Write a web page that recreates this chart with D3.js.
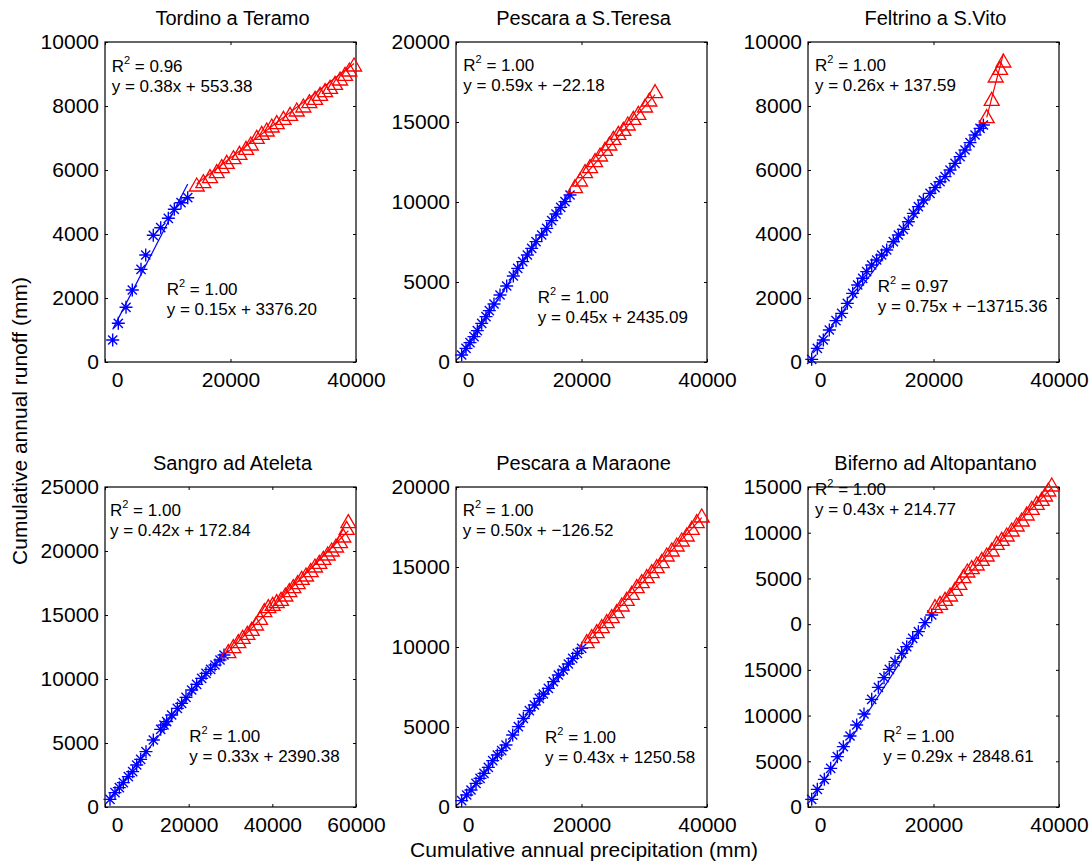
<!DOCTYPE html>
<html>
<head>
<meta charset="utf-8">
<script src="https://cdn.jsdelivr.net/npm/d3@7"></script>
<style>
  body { margin: 0; background: #fff; }
  text { font-family: "Liberation Sans", Arial, Helvetica, sans-serif; fill: #000; }
</style>
</head>
<body>
<script>
// panel titles, axis ranges and ticks
const titles = ["Tordino a Teramo", "Pescara a S.Teresa", "Feltrino a S.Vito",
                "Sangro ad Ateleta", "Pescara a Maraone", "Biferno ad Altopantano"];
const xMax = [40000, 40000, 40000, 60000, 40000, 40000];
const yMax = [10000, 20000, 10000, 25000, 20000, 35000];
const xTicks = [[0, 20000, 40000], [0, 20000, 40000], [0, 20000, 40000],
                [0, 20000, 40000, 60000], [0, 20000, 40000], [0, 20000, 40000]];
const yTicks = [[0, 2000, 4000, 6000, 8000, 10000],
                [0, 5000, 10000, 15000, 20000],
                [0, 2000, 4000, 6000, 8000, 10000],
                [0, 5000, 10000, 15000, 20000, 25000],
                [0, 5000, 10000, 15000, 20000],
                [0, 5000, 10000, 15000, 20000, 25000, 30000, 35000]];
// the last panel repeats its labels as in the original figure
const yTickLabels6 = ["0", "5000", "10000", "15000", "0", "5000", "10000", "15000"];

// cumulative precipitation / runoff, blue = first period, red = second period
const tordinoBlue = [[1227,687],[2120,1209],[3347,1709],[4352,2250],[5738,2896],[6487,3344],
  [7699,3959],[8879,4197],[10090,4490],[11046,4772],[12114,4978],[13182,5134]];
const tordinoRed = [[14617,5531],[15670,5635],[16737,5792],[17805,5948],[18602,6104],[19399,6240],
  [20466,6385],[21423,6521],[22475,6677],[23226,6812],[24181,7021],[24978,7146],[25775,7250],
  [26572,7375],[27369,7479],[28437,7614],[29489,7740],[30557,7875],[31610,8000],[32566,8135],
  [33474,8240],[34271,8365],[35068,8479],[35865,8583],[36662,8708],[37459,8844],[38256,8990],
  [38941,9125],[39691,9281]];

const teresaBlue = [[903,437],[1594,854],[2232,1208],[2869,1583],[3400,1958],[4096,2417],
  [4782,2833],[5313,3208],[6057,3625],[7014,4188],[8078,4750],[9137,5375],[9835,5854],
  [10632,6271],[11370,6688],[12061,7104],[12752,7521],[13661,7938],[14458,8354],[15255,8833],
  [15940,9250],[16689,9667],[17374,10021],[18172,10438]];
const teresaRed = [[18969,10958],[19766,11375],[20563,11896],[21360,12208],[22157,12583],
  [22954,12938],[23751,13292],[24441,13625],[25073,13979],[25870,14292],[26667,14542],
  [27369,14875],[28262,15229],[29059,15542],[30127,16000],[30812,16375],[31721,16896]];

const feltrinoBlue = [[590,83],[1488,427],[2444,688],[3400,1000],[4463,1292],[5366,1521],
  [6269,1833],[7119,2146],[7916,2406],[8713,2615],[9350,2823],[10150,3031],[10947,3188],
  [11744,3344],[12541,3500],[13603,3760],[14400,3969],[15197,4146],[15994,4385],[16791,4646],
  [17588,4854],[18385,5063],[19447,5271],[20244,5448],[21041,5635],[21838,5792],[22635,6000],
  [23432,6208],[24229,6417],[25026,6625],[25823,6854],[26620,7094],[27417,7302],[27949,7406]];
const feltrinoRed = [[28479,7667],[29276,8208],[29914,8938],[30605,9177],[31136,9406]];

const sangroBlue = [[1195,599],[2390,1120],[3426,1510],[4382,1901],[5578,2370],[6614,2760],
  [7570,3281],[8526,3724],[9801,4323],[11554,5234],[13307,6068],[14104,6406],[14741,6667],
  [15937,7188],[17292,7708],[18327,8099],[19362,8568],[20717,9141],[21912,9583],[23107,10052],
  [24143,10443],[25258,10755],[26294,11094],[27490,11484],[28446,11875]];
const sangroRed = [[29482,12135],[30677,12526],[31873,12917],[32908,13255],[34024,13568],
  [35060,13880],[36096,14297],[37052,14740],[38088,15339],[39044,15651],[40080,15833],
  [41036,16042],[42072,16224],[43108,16563],[44064,16901],[45020,17214],[46056,17526],
  [47012,17865],[48048,18125],[49164,18464],[50198,18828],[51234,19115],[52190,19427],
  [53226,19766],[54182,20078],[55218,20391],[56174,20729],[56970,21172],[57768,21771],[58166,22292]];

const maraoneBlue = [[903,396],[1700,750],[2391,1063],[3188,1479],[3826,1792],[4463,2104],
  [5154,2479],[5845,2896],[6588,3250],[7279,3521],[7970,3875],[9031,4500],[9935,5021],
  [10732,5542],[11689,6021],[12486,6375],[13283,6792],[13921,7063],[14718,7417],[15515,7833],
  [16312,8250],[17109,8563],[17906,8938],[18597,9292],[19341,9604],[20032,9917]];
const maraoneRed = [[20830,10333],[21627,10646],[22424,10958],[23221,11271],[24018,11583],
  [24815,11896],[25612,12208],[26409,12625],[27206,12979],[28003,13354],[28800,13771],
  [29597,14083],[30394,14396],[31191,14708],[31988,15021],[32785,15333],[33582,15750],
  [34379,16063],[35176,16375],[35973,16688],[36770,17000],[37567,17417],[38364,17833],[39161,18188]];

const bifernoBlue = [[590,839],[1488,1932],[2604,3026],[3613,4229],[4676,5505],[5632,6599],
  [6695,7766],[7758,8969],[8926,10172],[10150,11776],[11212,13089],[12114,14146],[12964,15057],
  [13868,15896],[14932,16807],[15729,17536],[16686,18448],[17588,19177],[18650,20161],[19718,21000]];
const bifernoRed = [[20244,21911],[21041,22276],[21838,22714],[22635,23188],[23432,23807],
  [24123,24464],[24761,25193],[25398,25813],[26088,26177],[26885,26578],[27682,27089],
  [28479,27563],[29276,28109],[30073,28839],[30870,29276],[31667,29750],[32464,30297],
  [33261,30844],[34058,31391],[34855,32047],[35652,32667],[36449,33214],[37246,33651],
  [37772,34125],[38298,34672],[38841,35219]];

const blueSets = [tordinoBlue, teresaBlue, feltrinoBlue, sangroBlue, maraoneBlue, bifernoBlue];
const redSets = [tordinoRed, teresaRed, feltrinoRed, sangroRed, maraoneRed, bifernoRed];

// regression lines (end points)
const blueFit = [[[1227,1020],[13182,5562]], [[903,511],[18172,10699]], [[590,291],[27949,7404]],
                 [[1195,675],[28446,12120]], [[903,325],[20032,9890]], [[590,800],[19718,21200]]];
const redFit = [[[14617,5569],[39691,9330]], [[18969,10971],[31721,16710]], [[28479,7644],[31136,9637]],
                [[29482,12119],[58166,21585]], [[20830,10208],[39161,18090]], [[20244,21700],[38841,34900]]];

// fit annotations
const r2Blue = ["0.96", "1.00", "1.00", "1.00", "1.00", "1.00"];
const eqBlue = ["y = 0.38x + 553.38", "y = 0.59x + \u221222.18", "y = 0.26x + 137.59",
                "y = 0.42x + 172.84", "y = 0.50x + \u2212126.52", "y = 0.43x + 214.77"];
const r2Red = ["1.00", "1.00", "0.97", "1.00", "1.00", "1.00"];
const eqRed = ["y = 0.15x + 3376.20", "y = 0.45x + 2435.09", "y = 0.75x + \u221213715.36",
               "y = 0.33x + 2390.38", "y = 0.43x + 1250.58", "y = 0.29x + 2848.61"];
// text anchors in data units
const noteBluePos = [[1068,9072],[1164,18188],[1116,9094],[1195,22734],[1068,18188],[1116,34125]];
const noteRedPos = [[9835,2094],[13023,3706],[11110,2197],[20151,5102],[14187,4000],[12003,7142]];

const width = 1092, height = 865;
const colLeft = [105, 456, 808], rowTop = [42, 487];
const pw = 251, ph = 320;

const svg = d3.select("body").append("svg")
    .attr("width", width)
    .attr("height", height);

svg.append("rect").attr("width", width).attr("height", height).attr("fill", "#fff");

function starPath(r){
    const d = r * 0.7071;
    return "M" + (-r) + ",0L" + r + ",0M0," + (-r) + "L0," + r +
           "M" + (-d) + "," + (-d) + "L" + d + "," + d + "M" + (-d) + "," + d + "L" + d + "," + (-d);
}
const triPath = "M0,-7L7.5,6L-7.5,6Z";

titles.forEach(function(title, i){
    const left = colLeft[i % 3], top = rowTop[Math.floor(i / 3)];
    const x = d3.scaleLinear().domain([0, xMax[i]]).range([0, pw]);
    const y = d3.scaleLinear().domain([0, yMax[i]]).range([ph, 0]);

    const g = svg.append("g").attr("transform", "translate(" + left + "," + top + ")");

    // axes, ticks pointing inward
    g.append("g").call(d3.axisLeft(y).tickValues(yTicks[i]).tickSize(-3).tickPadding(6)
        .tickFormat(function(d, k){ return i === 5 ? yTickLabels6[k] : d3.format("d")(d); }));
    g.append("g").attr("transform", "translate(" + pw + ",0)")
        .call(d3.axisRight(y).tickValues(yTicks[i]).tickSize(-3).tickFormat(""));
    const gb = g.append("g").attr("transform", "translate(0," + ph + ")")
        .call(d3.axisBottom(x).tickValues(xTicks[i]).tickSize(-3).tickPadding(10).tickFormat(d3.format("d")));
    g.append("g").call(d3.axisTop(x).tickValues(xTicks[i]).tickSize(-3).tickFormat(""));

    g.selectAll(".domain").remove();
    g.selectAll(".tick line").attr("stroke", "#000");
    g.selectAll(".tick text").attr("font-size", "21px").attr("fill", "#000");
    gb.selectAll(".tick text").filter(function(d){ return d === 0; }).attr("dx", 12);

    g.append("rect")
        .attr("width", pw).attr("height", ph)
        .attr("fill", "none").attr("stroke", "#000").attr("stroke-width", 1.2);

    g.append("text")
        .attr("x", pw / 2 + 2).attr("y", -17)
        .attr("text-anchor", "middle")
        .attr("font-size", "20px")
        .text(title);

    const line = d3.line().x(function(d){ return x(d[0]); }).y(function(d){ return y(d[1]); });

    g.append("path").attr("d", line(blueFit[i]))
        .attr("fill", "none").attr("stroke", "#0000ff").attr("stroke-width", 1.2);
    g.append("path").attr("d", line(redFit[i]))
        .attr("fill", "none").attr("stroke", "#ff0000").attr("stroke-width", 1.2);

    g.selectAll(".star")
        .data(blueSets[i])
        .enter()
        .append("path")
        .attr("class", "star")
        .attr("transform", function(d){ return "translate(" + x(d[0]) + "," + y(d[1]) + ")"; })
        .attr("d", starPath(6.5))
        .attr("fill", "none")
        .attr("stroke", "#0000ff")
        .attr("stroke-width", 1.4);

    g.selectAll(".tri")
        .data(redSets[i])
        .enter()
        .append("path")
        .attr("class", "tri")
        .attr("transform", function(d){ return "translate(" + x(d[0]) + "," + y(d[1]) + ")"; })
        .attr("d", triPath)
        .attr("fill", "none")
        .attr("stroke", "#ff0000")
        .attr("stroke-width", 1.3);

    // R^2 and equation labels
    function note(pos, r2, eq){
        const t = g.append("text")
            .attr("x", x(pos[0])).attr("y", y(pos[1]))
            .attr("font-size", "17px");
        t.append("tspan").text("R");
        t.append("tspan").attr("dy", -8).attr("font-size", "11px").text("2");
        t.append("tspan").attr("dy", 8).text(" = " + r2);
        g.append("text")
            .attr("x", x(pos[0])).attr("y", y(pos[1]) + 20)
            .attr("font-size", "17px")
            .text(eq);
    }
    note(noteBluePos[i], r2Blue[i], eqBlue[i]);
    note(noteRedPos[i], r2Red[i], eqRed[i]);
});

svg.append("text")
    .attr("transform", "translate(27,421) rotate(-90)")
    .attr("text-anchor", "middle")
    .attr("font-size", "21px")
    .text("Cumulative annual runoff (mm)");

svg.append("text")
    .attr("x", 584).attr("y", 857)
    .attr("text-anchor", "middle")
    .attr("font-size", "21px")
    .text("Cumulative annual precipitation (mm)");
</script>
</body>
</html>
